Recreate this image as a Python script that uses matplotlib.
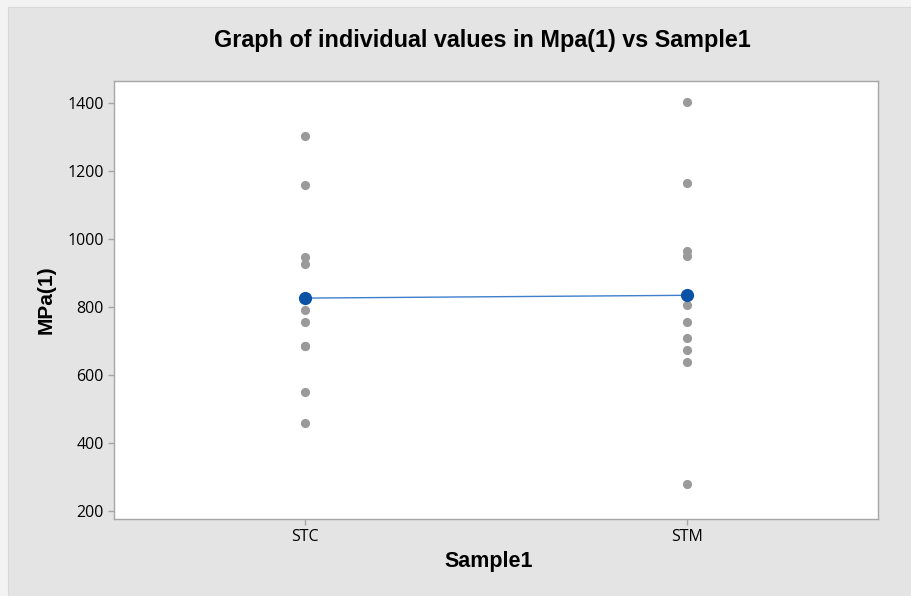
import matplotlib
matplotlib.use("Agg")
import matplotlib.pyplot as plt
import numpy as np
from matplotlib.patches import Rectangle

# values
samples = ["STC", "STM"]
stc_values = [1303, 1160, 948, 925, 790, 755, 686, 686, 550, 458]
stm_values = [1403, 1165, 965, 950, 807, 756, 708, 672, 637, 280]
y_ticks = [200, 400, 600, 800, 1000, 1200, 1400]

fig = plt.figure(figsize=(9.11, 5.96), dpi=100)
fig.patch.set_facecolor("#f3f3f3")
# grey panel behind the chart
panel = Rectangle((8 / 911, 0), 1, 1 - 7 / 596, transform=fig.transFigure,
                  facecolor="#e4e4e4", edgecolor="#d8d8d8", lw=0.8, zorder=-5)
fig.add_artist(panel)

ax = fig.add_axes([114 / 911, 1 - 519 / 596, (878 - 114) / 911, (519 - 81) / 596])
ax.set_facecolor("white")

groups = [stc_values, stm_values]
x = np.arange(len(samples))
for i, vals in enumerate(groups):
    ax.plot(np.full(len(vals), x[i]), vals, "o", color="#9a9a9a", ms=6.6,
            mec="none", zorder=2)

means = [np.mean(g) for g in groups]
ax.plot(x, means, "-", color="#3f7fcc", lw=1.0, zorder=3)
ax.plot(x, means, "o", color="#0a52a5", ms=9.5, mec="none", zorder=4)

ax.set_xlim(-0.5, 1.5)
ax.set_ylim(176, 1465)
ax.set_xticks(x)
ax.set_xticklabels(samples)
ax.set_yticks(y_ticks)

for s in ax.spines.values():
    s.set_color("#a6a6a6")
    s.set_linewidth(1.0)
ax.tick_params(axis="both", colors="#a6a6a6", length=4, width=1,
               labelcolor="black", labelsize=11.5)
for lab in ax.get_xticklabels() + ax.get_yticklabels():
    lab.set_family(["Open Sans", "DejaVu Sans"])
    lab.set_fontweight("medium")

ax.set_xlabel("Sample1", fontsize=15.5, fontweight="bold",
              family=["Liberation Sans", "DejaVu Sans"], labelpad=4)
ax.set_ylabel("MPa(1)", fontsize=15, fontweight="bold",
              family=["Liberation Sans", "DejaVu Sans"], labelpad=8)
ax.xaxis.label.set_x(0.49)

fig.text(0.529, 1 - 41 / 596, "Graph of individual values in Mpa(1) vs Sample1",
         ha="center", va="center", fontsize=16.8, fontweight="bold",
         family=["Liberation Sans", "DejaVu Sans"])

fig.savefig("out.png", dpi=100, facecolor=fig.get_facecolor())
